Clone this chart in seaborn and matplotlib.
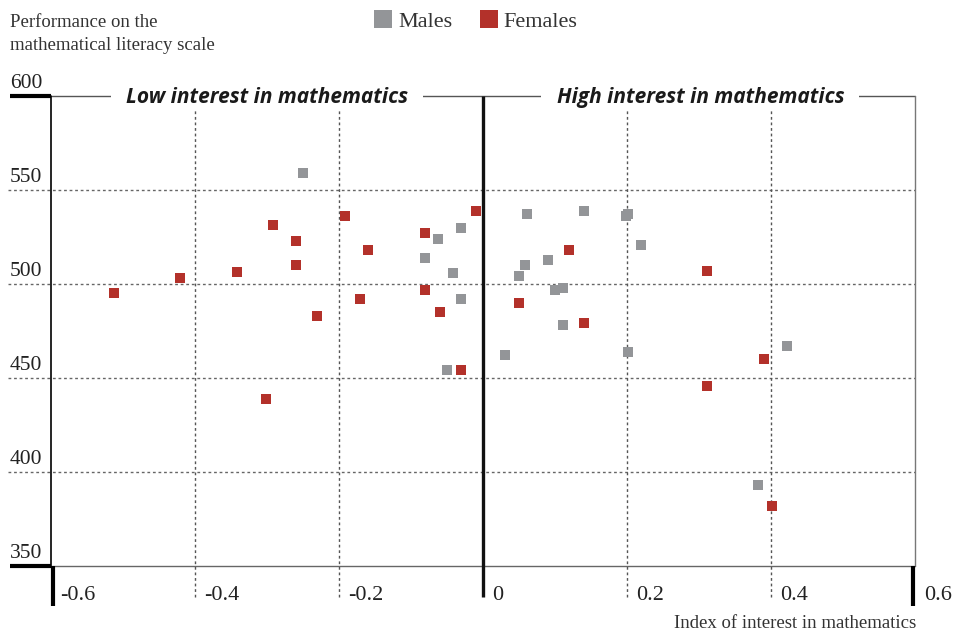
import numpy as np
import pandas as pd
import matplotlib
matplotlib.use("Agg")
import matplotlib.pyplot as plt
import matplotlib.transforms as mtransforms
import seaborn as sns

# values
male_x = [-0.250, -0.031, -0.062, -0.081, -0.041, -0.030, -0.050, 0.061, 0.140, 0.201,
          0.199, 0.220, 0.090, 0.059, 0.050, 0.111, 0.100, 0.111, 0.030, 0.201, 0.422, 0.382]
male_y = [559, 530, 524, 514, 506, 492, 454, 537, 539, 537,
          536, 521, 513, 510, 504, 498, 497, 478, 462, 464, 467, 393]
female_x = [-0.191, -0.291, -0.260, -0.260, -0.342, -0.421, -0.512, -0.231, -0.301, -0.010,
            -0.081, -0.160, -0.081, -0.171, -0.060, -0.030, 0.120, 0.050, 0.140, 0.311,
            0.390, 0.311, 0.401]
female_y = [536, 531.5, 523, 510, 506.6, 503, 495, 483, 439, 539,
            527, 518, 497, 492, 485, 454, 518, 490, 479, 507,
            460, 446, 382]

x_ticks = [-0.6, -0.4, -0.2, 0, 0.2, 0.4, 0.6]
x_tick_labels = ["-0.6", "-0.4", "-0.2", "0", "0.2", "0.4", "0.6"]
y_ticks = [350, 400, 450, 500, 550, 600]
grid_x = [-0.4, -0.2, 0.2, 0.4]
grid_y = [400, 450, 500, 550]

MALE_COLOR = "#939598"
FEMALE_COLOR = "#b3312a"

df = pd.DataFrame({
    "interest": male_x + female_x,
    "score": male_y + female_y,
    "sex": ["Males"] * len(male_x) + ["Females"] * len(female_x),
})

sns.set_theme(style="white")
plt.rcParams["font.family"] = ["Liberation Serif", "DejaVu Serif"]

fig = plt.figure(figsize=(9.58, 6.34), dpi=100)
ax = fig.add_axes([51 / 958, 1 - 566 / 634, 864 / 958, 470 / 634])

sns.scatterplot(data=df, x="interest", y="score", hue="sex",
                palette={"Males": MALE_COLOR, "Females": FEMALE_COLOR},
                marker="s", s=52, linewidth=0, ax=ax, zorder=7)

ax.set_xlim(-0.6, 0.6)
ax.set_ylim(350, 600)
ax.set_xticks([])
ax.set_yticks([])
ax.set_xlabel("")
ax.set_ylabel("")
for sp in ax.spines.values():
    sp.set_visible(False)

# dotted grid (drawn over the heading boxes so they start just below the text)
dots = (0, (2, 2))
for gx in grid_x:
    ax.axvline(gx, ymin=-0.066, ymax=0.97, color="#555555", lw=1, ls=dots,
               clip_on=False, zorder=6)
for gy in grid_y:
    ax.axhline(gy, xmin=-0.05, xmax=1, color="#666666", lw=1, ls=dots,
               clip_on=False, zorder=1)

# frame
ax.plot([0, 0], [0, 1], transform=ax.transAxes, color="black", lw=1.2, clip_on=False, zorder=3)
ax.plot([0, 1], [1, 1], transform=ax.transAxes, color="#555555", lw=1, clip_on=False, zorder=2)
ax.plot([1, 1], [0, 1], transform=ax.transAxes, color="#777777", lw=1, clip_on=False, zorder=2)
ax.plot([0, 1], [0, 0], transform=ax.transAxes, color="#666666", lw=1, clip_on=False, zorder=2)
# thick corner marks
ax.plot([-0.0475, 0], [1, 1], transform=ax.transAxes, color="black", lw=3, clip_on=False,
        solid_capstyle="butt")
ax.plot([-0.0475, 0], [0, 0], transform=ax.transAxes, color="black", lw=3, clip_on=False,
        solid_capstyle="butt")
ax.plot([0.002, 0.002], [0, -0.085], transform=ax.transAxes, color="black", lw=3,
        clip_on=False, solid_capstyle="butt")
ax.plot([0.998, 0.998], [0, -0.085], transform=ax.transAxes, color="black", lw=3,
        clip_on=False, solid_capstyle="butt")
ax.axvline(0, ymin=-0.066, ymax=1, color="#111111", lw=2.4, clip_on=False, zorder=3,
           solid_capstyle="butt")

# tick labels
xlab_tr = mtransforms.offset_copy(ax.get_xaxis_transform(), fig=fig, x=9, y=-30, units="dots")
for xv, lab in zip(x_ticks, x_tick_labels):
    ax.text(xv, 0, lab, transform=xlab_tr, ha="left", va="center", fontsize=16,
            color="#222222")
ylab_tr = mtransforms.offset_copy(ax.get_yaxis_transform(), fig=fig, x=0, y=3, units="dots")
for yv in y_ticks:
    ax.text(-0.0475, yv, str(yv), transform=ylab_tr, ha="left", va="bottom", fontsize=15.5,
            color="#222222")

# section headings on the top line
head_font = ["Open Sans", "DejaVu Sans"]
head_tr = mtransforms.offset_copy(ax.transData, fig=fig, x=0, y=-1, units="dots")
for xc, txt in [(-0.3, "Low interest in mathematics"), (0.302, "High interest in mathematics")]:
    ax.text(xc, 600, txt, transform=head_tr, ha="center", va="center", fontsize=15,
            fontweight="bold", style="italic", family=head_font, color="#1a1a1a", zorder=5,
            bbox=dict(facecolor="white", edgecolor="none", pad=11))

# axis titles
fig.text(10 / 958, 1 - 14 / 634, "Performance on the\nmathematical literacy scale",
         ha="left", va="top", fontsize=13.5, color="#333333", linespacing=1.45)
fig.text(916 / 958, 1 - 623 / 634, "Index of interest in mathematics",
         ha="right", va="center", fontsize=13.5, color="#333333")

# legend
sns.move_legend(ax, "center", bbox_to_anchor=(0.491, 1.158), ncol=2, frameon=False,
                title=None, fontsize=16, markerscale=1.7, handletextpad=0.2,
                columnspacing=1.2, handlelength=0.9)
leg = ax.get_legend()
for t in leg.get_texts():
    t.set_color("#333333")

fig.savefig("out.png", dpi=100)
